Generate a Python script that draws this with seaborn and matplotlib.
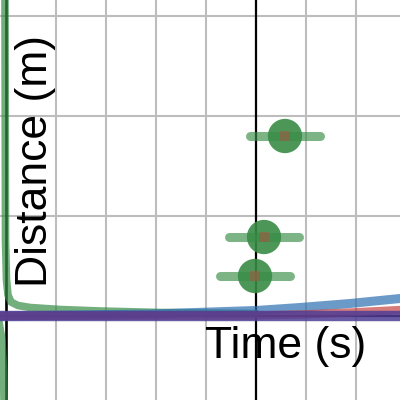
import numpy as np
import pandas as pd
import seaborn as sns
from matplotlib import pyplot as plt

# data (x in s, y in m)
green_upper_x = [-5.02, -5.01, -4.99, -4.96, -4.90, -4.76, -4.52, -3.92, -3.12, -1.92, 0.0]
green_upper_y = [3.18, 0.76, 0.36, 0.21, 0.14, 0.105, 0.085, 0.065, 0.05, 0.035, 0.025]
green_lower_x = [-5.14, -5.08, -5.05, -5.04]
green_lower_y = [-0.06, -0.24, -0.54, -0.86]

blue_x = [-5.12, -2.12, 0.0, 0.88, 1.88, 2.88]
blue_y = [0.0, 0.02, 0.055, 0.085, 0.125, 0.175]

red_x = [-5.12, -1.12, 0.0, 0.88, 1.88, 2.88]
red_y = [0.0, 0.003, 0.005, 0.015, 0.035, 0.06]

purple_x = [-5.12, 2.88]
purple_y = [0.0, 0.0]

pt_x = [0.58, 0.16, -0.02]
pt_y = [1.80, 0.79, 0.40]
pt_xerr = [0.7, 0.7, 0.7]

GREEN = "#388c46"
BLUE = "#2d70b3"
RED = "#c74440"
PURPLE = "#4f3d96"

sns.set_style("white")
plt.rcParams['font.family'] = ['Liberation Sans', 'DejaVu Sans']

fig = plt.figure(figsize=(4, 4), dpi=100)
ax = fig.add_axes([0, 0, 1, 1])
ax.set_xlim(-5.12, 2.88)
ax.set_ylim(-0.84, 3.16)

# grid
for gx in [-4, -3, -2, -1, 1, 2]:
    ax.axvline(gx, color="#bdbdbd", lw=1.5, zorder=0)
for gy in [1, 2, 3]:
    ax.axhline(gy, color="#bdbdbd", lw=1.5, zorder=0)
# axes lines
ax.axvline(0, color="black", lw=1.6, zorder=1)
ax.axvline(-5.006, color="black", lw=1.9, zorder=1)
ax.axhline(0, color="black", lw=1.6, zorder=1)

# curves
sns.lineplot(x=green_upper_x, y=green_upper_y, sort=False, estimator=None, color=GREEN,
             alpha=0.7, lw=5.5, ax=ax, zorder=2)
sns.lineplot(x=green_lower_x, y=green_lower_y, sort=False, estimator=None, color=GREEN,
             alpha=0.7, lw=5.5, ax=ax, zorder=2)
sns.lineplot(x=blue_x, y=blue_y, sort=False, estimator=None, color=BLUE, alpha=0.7, lw=6.5, ax=ax, zorder=3)
sns.lineplot(x=red_x, y=red_y, sort=False, estimator=None, color=RED, alpha=0.7, lw=6, ax=ax, zorder=3)
sns.lineplot(x=purple_x, y=purple_y, sort=False, estimator=None, color=PURPLE, alpha=0.85, lw=7.5, ax=ax, zorder=4)

# points with horizontal error bars
eb = ax.errorbar(pt_x, pt_y, xerr=pt_xerr, fmt='none', ecolor=GREEN, alpha=0.65,
                 elinewidth=6.5, capsize=0, zorder=5)
eb[2][0].set_capstyle('round')
sns.scatterplot(x=pt_x, y=pt_y, color=GREEN, s=610, alpha=0.9, edgecolor='none', ax=ax, zorder=6)
sns.scatterplot(x=pt_x, y=pt_y, color=RED, s=50, marker='s', alpha=0.45, edgecolor='none', ax=ax, zorder=7)

# labels
ax.text(-1.02, -0.42, "Time (s)", fontsize=32, color='black', ha='left', va='baseline', zorder=8)
ax.text(-4.18, 0.29, "Distance (m)", fontsize=32, color='black', rotation=90,
        rotation_mode='anchor', ha='left', va='baseline', zorder=8)

ax.set_xticks([])
ax.set_yticks([])
for s in ax.spines.values():
    s.set_visible(False)

plt.savefig("out.png", dpi=100)
